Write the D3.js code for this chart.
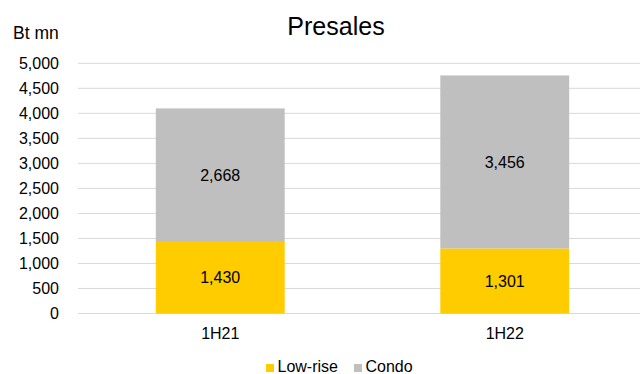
<!DOCTYPE html>
<html>
<head>
<meta charset="utf-8">
<script src="https://cdn.jsdelivr.net/npm/d3@7"></script>
<style>
  html, body { margin: 0; padding: 0; background: #fff; }
  svg { display: block; font-family: "Liberation Sans", Arial, sans-serif; }
</style>
</head>
<body>
<svg id="chart" width="640" height="374"></svg>
<script>
// Presales by period, Bt mn
const periods = ["1H21", "1H22"];
const lowRise = [1430, 1301];
const condo = [2668, 3456];
const seriesNames = ["Low-rise", "Condo"];
const seriesColors = ["#FFCC00", "#BFBFBF"];
const yTicks = [0, 500, 1000, 1500, 2000, 2500, 3000, 3500, 4000, 4500, 5000];

const svg = d3.select("#chart");
const W = 640, H = 374;
const plot = { left: 78, right: 647, top: 63.3, bottom: 313.5 };

const x = d3.scaleBand()
  .domain(periods)
  .range([plot.left, plot.right])
  .paddingInner(0.547)
  .paddingOuter(0.2735);

const y = d3.scaleLinear()
  .domain([0, 5000])
  .range([plot.bottom, plot.top]);

const fmt = d3.format(",");

// Title
svg.append("text")
  .attr("x", 336).attr("y", 35)
  .attr("text-anchor", "middle")
  .attr("font-size", 25)
  .attr("fill", "#000")
  .text("Presales");

// Unit label
svg.append("text")
  .attr("x", 13).attr("y", 39)
  .attr("font-size", 17.5)
  .attr("fill", "#000")
  .text("Bt mn");

// Gridlines
svg.append("g")
  .selectAll("line")
  .data(yTicks)
  .join("line")
  .attr("x1", plot.left).attr("x2", W)
  .attr("y1", d => y(d)).attr("y2", d => y(d))
  .attr("stroke", "#D9D9D9")
  .attr("stroke-width", 1);

// Y axis labels
const yAxis = d3.axisLeft(y).tickValues(yTicks).tickFormat(fmt).tickSize(0).tickPadding(19);
const yg = svg.append("g").attr("transform", `translate(${plot.left},0)`).call(yAxis);
yg.select(".domain").remove();
yg.selectAll("text").attr("font-size", 16).attr("fill", "#000")
  .attr("font-family", "Liberation Sans, Arial, sans-serif");

// Stacked data
const rows = periods.map((p, i) => ({ period: p, "Low-rise": lowRise[i], "Condo": condo[i] }));
const stack = d3.stack().keys(seriesNames)(rows);

const layers = svg.append("g")
  .selectAll("g")
  .data(stack)
  .join("g")
  .attr("fill", (d, i) => seriesColors[i]);

layers.selectAll("rect")
  .data(d => d)
  .join("rect")
  .attr("x", d => x(d.data.period))
  .attr("width", x.bandwidth())
  .attr("y", d => y(d[1]))
  .attr("height", d => y(d[0]) - y(d[1]));

// Segment value labels
layers.selectAll("text")
  .data(d => d.map(s => ({ s, key: d.key })))
  .join("text")
  .attr("x", d => x(d.s.data.period) + x.bandwidth() / 2)
  .attr("y", d => (y(d.s[0]) + y(d.s[1])) / 2)
  .attr("dy", "0.35em")
  .attr("text-anchor", "middle")
  .attr("font-size", 16)
  .attr("fill", "#000")
  .text(d => fmt(d.s.data[d.key]));

// X axis labels
const xAxis = d3.axisBottom(x).tickSize(0).tickPadding(0);
const xg = svg.append("g").attr("transform", `translate(0,${plot.bottom})`).call(xAxis);
xg.select(".domain").remove();
xg.selectAll("text").attr("font-size", 16).attr("fill", "#000")
  .attr("font-family", "Liberation Sans, Arial, sans-serif")
  .attr("dy", null).attr("y", 25.5);

// Legend
const legendItems = [
  { name: seriesNames[0], color: seriesColors[0], x: 266 },
  { name: seriesNames[1], color: seriesColors[1], x: 354 }
];
const lg = svg.append("g").selectAll("g").data(legendItems).join("g")
  .attr("transform", d => `translate(${d.x},0)`);
lg.append("rect").attr("x", 0).attr("y", 364).attr("width", 8).attr("height", 8)
  .attr("fill", d => d.color);
lg.append("text").attr("x", 11.5).attr("y", 372).attr("font-size", 16).attr("fill", "#000")
  .text(d => d.name);
</script>
</body>
</html>
